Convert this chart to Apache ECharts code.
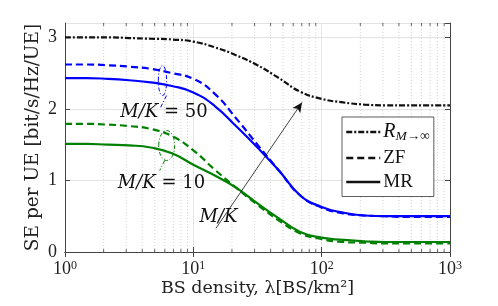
<!DOCTYPE html>
<html><head><meta charset="utf-8">
<script src="https://cdn.jsdelivr.net/npm/echarts@6/dist/echarts.min.js"></script>
<style>html,body{margin:0;padding:0;background:#fff}#c{width:498px;height:306px}</style>
</head><body><div id="c"></div>
<script>
// BS density (BS/km^2), sampled evenly in log scale
const densities = [1, 1.47, 2.15, 3.16, 4.64, 6.81, 10, 14.7, 21.5, 31.6, 46.4, 68.1, 100, 147, 215, 316, 464, 681, 1000];
// Asymptotic limit R_{M->inf}
const rInf = [3.00, 3.00, 3.00, 2.99, 2.98, 2.97, 2.94, 2.86, 2.75, 2.61, 2.43, 2.24, 2.14, 2.09, 2.06, 2.05, 2.05, 2.05, 2.05];
// M/K = 50
const zf50 = [2.62, 2.62, 2.61, 2.59, 2.56, 2.50, 2.42, 2.21, 1.87, 1.50, 1.14, 0.79, 0.62, 0.54, 0.51, 0.50, 0.49, 0.49, 0.49];
const mr50 = [2.43, 2.43, 2.42, 2.40, 2.37, 2.32, 2.23, 2.04, 1.76, 1.46, 1.14, 0.79, 0.63, 0.55, 0.51, 0.50, 0.50, 0.50, 0.50];
// M/K = 10
const zf10 = [1.79, 1.79, 1.78, 1.76, 1.72, 1.62, 1.42, 1.15, 0.90, 0.66, 0.44, 0.26, 0.18, 0.14, 0.13, 0.12, 0.12, 0.12, 0.12];
const mr10 = [1.51, 1.51, 1.50, 1.49, 1.46, 1.38, 1.22, 1.07, 0.90, 0.68, 0.47, 0.28, 0.20, 0.17, 0.15, 0.14, 0.14, 0.14, 0.14];
// tick labels
const xTickExponents = [0, 1, 2, 3];
const yTickLabels = ['0', '1', '2', '3'];
const minorX = [2,3,4,5,6,7,8,9,20,30,40,50,60,70,80,90,200,300,400,500,600,700,800,900];
const legendNames = ['R', 'ZF', 'MR'];

const FONT = 'Liberation Serif';
const TFONT = 'DejaVu Serif';
const yMax = 3.2;
const BLUE = '#0000ff', GREEN = '#008000', BLACK = '#111111';
const zip = a => densities.map((d, i) => [d, a[i]]);

// annotations in data coordinates
const ann = {
  ell50: { at: [5.75, 2.395], rx: 4.2, ry: 15, color: BLUE, tail: [[4, 15], [-2.5, 28]] },
  ell10: { at: [6.2, 1.488], rx: 8, ry: 15, color: GREEN, tail: [[-2, 15], [-7, 25]] },
  txt50: { at: [5.9, 1.95], text: '{i|M/K} = 50' },
  txt10: { at: [5.65, 0.958], text: '{i|M/K} = 10' },
  txtMK: { at: [15.7, 0.488], text: '{i|M/K}' },
  arrowFrom: [15.0, 0.33],
  arrowTo: [70.3, 2.09]
};

const chart = echarts.init(document.getElementById('c'), null, { renderer: 'canvas' });

function minorRender(params, api) {
  const children = [];
  const yBot = api.coord([1, 0])[1], yTop = api.coord([1, yMax])[1];
  minorX.forEach(v => {
    const x = api.coord([v, 0])[0];
    children.push({ type: 'line', shape: { x1: x, y1: yBot, x2: x, y2: yTop }, style: { stroke: '#c8c8c8', lineWidth: 0.8, lineDash: [1, 2] } });
    children.push({ type: 'line', shape: { x1: x, y1: yBot, x2: x, y2: yBot - 3 }, style: { stroke: '#444', lineWidth: 0.8 } });
    children.push({ type: 'line', shape: { x1: x, y1: yTop, x2: x, y2: yTop + 3 }, style: { stroke: '#444', lineWidth: 0.8 } });
  });
  return { type: 'group', children };
}

const richText = { i: { fontStyle: 'italic', fontFamily: TFONT, fontSize: 18, fill: '#111' } };
function annRender(params, api) {
  const children = [];
  ['ell50', 'ell10'].forEach(k => {
    const e = ann[k];
    const c = api.coord(e.at);
    children.push({ type: 'ellipse', shape: { cx: c[0], cy: c[1], rx: e.rx, ry: e.ry },
      style: { fill: 'none', stroke: e.color, lineWidth: 1, lineDash: [4, 2, 1, 2] } });
    children.push({ type: 'line', shape: { x1: c[0] + e.tail[0][0], y1: c[1] + e.tail[0][1], x2: c[0] + e.tail[1][0], y2: c[1] + e.tail[1][1] },
      style: { stroke: e.color, lineWidth: 1, lineDash: [4, 2, 1, 2] } });
  });
  ['txt50', 'txt10', 'txtMK'].forEach(k => {
    const t = ann[k];
    const c = api.coord(t.at);
    children.push({ type: 'text', x: c[0], y: c[1], style: { text: t.text, fontFamily: TFONT, fontSize: 18, fill: '#111',
      align: 'center', verticalAlign: 'middle', rich: richText } });
  });
  return { type: 'group', children };
}

const lineBase = { type: 'line', showSymbol: false, symbol: 'none', smooth: 0.5, xAxisIndex: 0, yAxisIndex: 0 };

chart.setOption({
  animation: false,
  backgroundColor: '#fff',
  grid: { left: 65, right: 48, top: 23, bottom: 54, containLabel: false },
  legend: {
    data: legendNames, orient: 'vertical', left: 342, top: 117,
    backgroundColor: '#fff', borderColor: '#333', borderWidth: 0.8, borderRadius: 0,
    padding: [5, 4, 5, 3], itemWidth: 34, itemHeight: 18, itemGap: 5,
    itemStyle: { opacity: 0 },
    lineStyle: { width: 2.5 },
    formatter: n => n === 'R' ? '{r|R}{s|M→∞}' : n,
    textStyle: { fontFamily: FONT, fontSize: 19, color: '#111', padding: [0, 0, 0, -2],
      rich: { r: { fontFamily: FONT, fontStyle: 'italic', fontSize: 20, color: '#111' },
              s: { fontFamily: FONT, fontStyle: 'italic', fontSize: 13.5, color: '#111', verticalAlign: 'bottom', padding: [9, 0, 0, 0] } } }
  },
  xAxis: [{
    type: 'log', logBase: 10, min: 1, max: 1000,
    name: 'BS density, λ[BS/km²]', nameLocation: 'middle', nameGap: 27, nameMoveOverlap: false,
    nameTextStyle: { fontFamily: TFONT, fontSize: 17.5, color: '#222' },
    axisLine: { lineStyle: { color: '#444', width: 1 } },
    axisTick: { inside: true, length: 5, lineStyle: { color: '#444' } },
    splitLine: { show: true, lineStyle: { color: '#e3e3e3', width: 1 } },
    axisLabel: { margin: 8, formatter: v => '{b|10}{e|' + xTickExponents[Math.round(Math.log10(v))] + '}',
      rich: { b: { fontFamily: FONT, fontSize: 18, color: '#222' }, e: { fontFamily: FONT, fontSize: 12, color: '#222', verticalAlign: 'top' } } }
  }, {
    type: 'log', logBase: 10, min: 1, max: 1000, position: 'top',
    axisLine: { lineStyle: { color: '#444', width: 1 } },
    axisTick: { inside: true, length: 5, lineStyle: { color: '#444' } },
    axisLabel: { show: false }, splitLine: { show: false }
  }],
  yAxis: [{
    type: 'value', min: 0, max: yMax, interval: 1,
    name: 'SE per UE [bit/s/Hz/UE]', nameLocation: 'middle', nameGap: 22, nameMoveOverlap: false,
    nameTextStyle: { fontFamily: TFONT, fontSize: 18.5, color: '#222' },
    axisLine: { show: true, lineStyle: { color: '#444', width: 1 } },
    axisTick: { show: true, inside: true, length: 5, lineStyle: { color: '#444' } },
    splitLine: { show: true, lineStyle: { color: '#e3e3e3', width: 1 } },
    axisLabel: { margin: 8, fontFamily: FONT, fontSize: 18, color: '#222', showMaxLabel: false,
      formatter: v => Number.isInteger(v) ? yTickLabels[v] : '' }
  }, {
    type: 'value', min: 0, max: yMax, interval: 1, position: 'right',
    axisLine: { show: true, lineStyle: { color: '#444', width: 1 } },
    axisTick: { show: true, inside: true, length: 5, lineStyle: { color: '#444' } },
    axisLabel: { show: false }, splitLine: { show: false }
  }],
  series: [
    { type: 'custom', name: 'minor', renderItem: minorRender, data: [[1, 0]], silent: true, z: 1, clip: false, xAxisIndex: 0, yAxisIndex: 0 },
    Object.assign({}, lineBase, { name: 'R', data: zip(rInf), z: 3, lineStyle: { color: BLACK, width: 2.2, type: [6, 2, 2, 2] }, itemStyle: { color: BLACK } }),
    Object.assign({}, lineBase, { name: 'zf50', data: zip(zf50), z: 3, lineStyle: { color: BLUE, width: 2.2, type: [7, 4] }, itemStyle: { color: BLUE } }),
    Object.assign({}, lineBase, { name: 'mr50', data: zip(mr50), z: 4, lineStyle: { color: BLUE, width: 2.2 }, itemStyle: { color: BLUE } }),
    Object.assign({}, lineBase, { name: 'zf10', data: zip(zf10), z: 3, lineStyle: { color: GREEN, width: 2.2, type: [7, 4] }, itemStyle: { color: GREEN } }),
    Object.assign({}, lineBase, { name: 'mr10', data: zip(mr10), z: 4, lineStyle: { color: GREEN, width: 2.2 }, itemStyle: { color: GREEN } }),
    Object.assign({}, lineBase, { name: 'ZF', data: [], lineStyle: { color: BLACK, width: 2.2, type: [7, 4] }, itemStyle: { color: BLACK } }),
    Object.assign({}, lineBase, { name: 'MR', data: [], lineStyle: { color: BLACK, width: 2.2 }, itemStyle: { color: BLACK } }),
    { type: 'line', name: 'arrow', data: [], xAxisIndex: 0, yAxisIndex: 0, z: 5,
      markLine: { silent: true, symbol: ['none', 'arrow'], symbolSize: [7, 10], label: { show: false },
        lineStyle: { color: '#111', width: 0.8, type: 'solid' },
        data: [[{ coord: ann.arrowFrom }, { coord: ann.arrowTo }]] } },
    { type: 'custom', name: 'ann', renderItem: annRender, data: [[1, 0]], silent: true, z: 6, clip: false, xAxisIndex: 0, yAxisIndex: 0 }
  ]
});
</script></body></html>
